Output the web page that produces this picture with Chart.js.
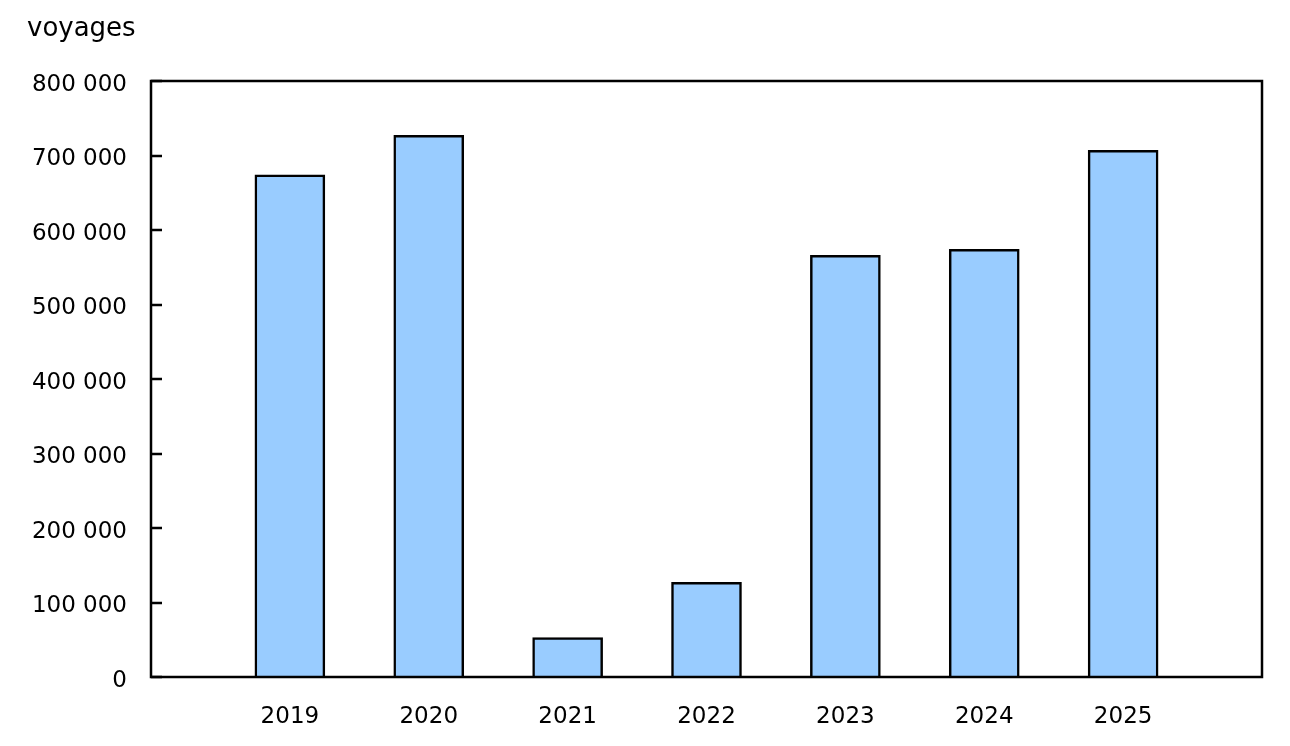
<!DOCTYPE html>
<html>
<head>
<meta charset="utf-8">
<script src="https://cdn.jsdelivr.net/npm/chart.js@4"></script>
<style>
  html, body { margin: 0; padding: 0; background: #fff; }
  #wrap { width: 1290px; height: 746px; position: relative; }
</style>
</head>
<body>
<div id="wrap"><canvas id="voyagesChart"></canvas></div>
<script>
// empty slots at both ends keep the bars off the frame, like the source chart
const years = ["", "2019", "2020", "2021", "2022", "2023", "2024", "2025", ""];
const voyages = [null, 674000, 727000, 53000, 127000, 566000, 574000, 707000, null];
const yTicks = [0, 100000, 200000, 300000, 400000, 500000, 600000, 700000, 800000];
const unitLabel = "voyages";

const FONT = "'DejaVu Sans', Verdana, sans-serif";

function fmt(v) {
  return String(v).replace(/\B(?=(\d{3})+(?!\d))/g, " ");
}

// box around the plot, inward ticks on y, unit label top-left
const framePlugin = {
  id: "frame",
  afterDraw(chart) {
    const { ctx, chartArea: a, scales } = chart;
    ctx.save();
    ctx.strokeStyle = "#000";
    ctx.lineWidth = 2.5;
    ctx.strokeRect(a.left, a.top, a.right - a.left, a.bottom - a.top);
    ctx.beginPath();
    yTicks.forEach(v => {
      const y = Math.round(scales.y.getPixelForValue(v));
      ctx.moveTo(a.left, y);
      ctx.lineTo(a.left + 11, y);
    });
    ctx.stroke();
    ctx.fillStyle = "#000";
    ctx.font = "26px " + FONT;
    ctx.textBaseline = "alphabetic";
    ctx.textAlign = "left";
    ctx.fillText(unitLabel, 27, 36);
    ctx.restore();
  }
};

new Chart(document.getElementById("voyagesChart"), {
  type: "bar",
  data: {
    labels: years,
    datasets: [{
      label: unitLabel,
      data: voyages,
      backgroundColor: "#99ccff",
      borderColor: "#000",
      borderWidth: 2.5,
      barThickness: 70
    }]
  },
  options: {
    responsive: true,
    maintainAspectRatio: false,
    animation: false,
    layout: { padding: { left: 0, right: 28, top: 81, bottom: 0 } },
    plugins: {
      legend: { display: false },
      tooltip: { enabled: false }
    },
    scales: {
      x: {
        offset: false,
        grid: { display: false, drawTicks: false },
        border: { display: false },
        ticks: {
          autoSkip: false,
          maxRotation: 0,
          padding: 26,
          color: "#000",
          font: { family: FONT, size: 23 }
        },
        afterFit(scale) { scale.height = 69; }
      },
      y: {
        min: 0,
        max: 800000,
        grid: { display: false, drawTicks: false },
        border: { display: false },
        afterBuildTicks(scale) { scale.ticks = yTicks.map(v => ({ value: v })); },
        ticks: {
          padding: 24,
          labelOffset: 4,
          color: "#000",
          font: { family: FONT, size: 23 },
          callback: v => fmt(v)
        },
        afterFit(scale) { scale.width = 151; }
      }
    }
  },
  plugins: [framePlugin]
});
</script>
</body>
</html>
